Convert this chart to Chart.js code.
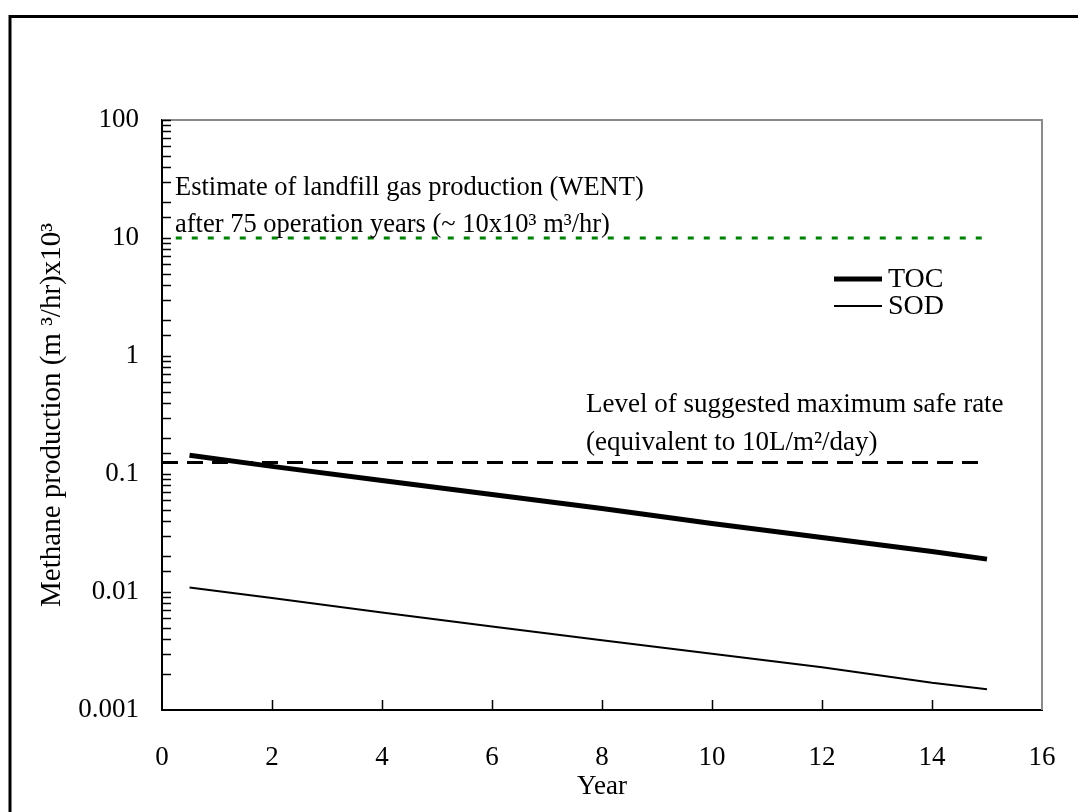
<!DOCTYPE html>
<html>
<head>
<meta charset="utf-8">
<style>
  html, body { margin: 0; padding: 0; background: #fff; }
  canvas { display: block; }
</style>
<script src="https://cdn.jsdelivr.net/npm/chart.js@4"></script>
</head>
<body>
<canvas id="chart" width="1078" height="812"></canvas>
<script>
(() => {
  'use strict';

  // values
  const tocYears = [0.5, 2, 4, 6, 8, 10, 12, 14, 15];
  const tocValues = [0.144, 0.116, 0.088, 0.067, 0.051, 0.038, 0.029, 0.022, 0.019];
  const sodYears = [0.5, 2, 4, 6, 8, 10, 12, 14, 15];
  const sodValues = [0.0109, 0.0089, 0.0067, 0.0051, 0.0039, 0.0030, 0.0023, 0.0017, 0.0015];
  const safeYears = [0, 15];
  const safeValues = [0.125, 0.125];
  const wentYears = [0.25, 15];
  const wentValues = [10, 10];
  const yTickLabels = ['0.001', '0.01', '0.1', '1', '10', '100'];

  const serif = '"Liberation Serif", "Times New Roman", serif';
  const pts = (xs, ys) => xs.map((x, i) => ({ x, y: ys[i] }));

  const decor = {
    id: 'decor',
    beforeDraw(chart) {
      const ctx = chart.ctx;
      ctx.save();
      ctx.strokeStyle = '#000';
      ctx.lineWidth = 3;
      ctx.beginPath();
      ctx.moveTo(10, 2000);
      ctx.lineTo(10, 16.5);
      ctx.lineTo(2000, 16.5);
      ctx.stroke();
      ctx.restore();
    },
    afterDraw(chart) {
      const ctx = chart.ctx;
      const a = chart.chartArea;
      const xs = chart.scales.x, ys = chart.scales.y;
      ctx.save();

      // gray top/right frame
      ctx.strokeStyle = '#8a8a8a';
      ctx.lineWidth = 2;
      ctx.beginPath();
      ctx.moveTo(a.left, a.top);
      ctx.lineTo(a.right, a.top);
      ctx.lineTo(a.right, a.bottom);
      ctx.stroke();

      // inward ticks
      ctx.strokeStyle = '#000';
      ctx.lineWidth = 1.5;
      ctx.beginPath();
      ys.ticks.forEach(t => {
        const y = Math.round(ys.getPixelForValue(t.value)) + 0.5;
        if (y < a.top - 1 || y > a.bottom - 2) return;
        ctx.moveTo(a.left, y);
        ctx.lineTo(a.left + 9, y);
      });
      xs.ticks.forEach(t => {
        const x = Math.round(xs.getPixelForValue(t.value)) + 0.5;
        if (x < a.left + 2 || x > a.right - 2) return;
        ctx.moveTo(x, a.bottom);
        ctx.lineTo(x, a.bottom - 10);
      });
      ctx.stroke();

      // annotations
      ctx.fillStyle = '#000';
      ctx.textBaseline = 'alphabetic';
      ctx.textAlign = 'left';
      ctx.font = '26.5px ' + serif;
      ctx.fillText('Estimate of landfill gas production (WENT)', 175, 195);
      ctx.fillText('after 75 operation years (~ 10x10\u00B3 m\u00B3/hr)', 175, 232);
      ctx.font = '27px ' + serif;
      ctx.fillText('Level of suggested maximum safe rate', 586, 412);
      ctx.fillText('(equivalent to 10L/m\u00B2/day)', 586, 450);

      // legend
      const legendRows = [
        { ds: chart.data.datasets[0], y: 279 },
        { ds: chart.data.datasets[1], y: 306 }
      ];
      ctx.font = '28px ' + serif;
      ctx.textBaseline = 'middle';
      legendRows.forEach(r => {
        ctx.strokeStyle = r.ds.borderColor;
        ctx.lineWidth = r.ds.borderWidth;
        ctx.beginPath();
        ctx.moveTo(834, r.y);
        ctx.lineTo(882, r.y);
        ctx.stroke();
        ctx.fillText(r.ds.label, 888, r.y + 1);
      });
      ctx.restore();
    }
  };

  new Chart(document.getElementById('chart'), {
    type: 'line',
    data: {
      datasets: [
        { label: 'TOC', data: pts(tocYears, tocValues), borderColor: '#000', borderWidth: 5 },
        { label: 'SOD', data: pts(sodYears, sodValues), borderColor: '#000', borderWidth: 2 },
        { label: 'safe', data: pts(safeYears, safeValues), borderColor: '#000', borderWidth: 3, borderDash: [16, 9] },
        { label: 'WENT', data: pts(wentYears, wentValues), borderColor: '#008000', borderWidth: 3, borderDash: [6, 10] }
      ]
    },
    options: {
      responsive: false,
      animation: false,
      layout: { padding: { top: 120, right: 36, left: 0, bottom: 0 } },
      elements: {
        point: { radius: 0 },
        line: { tension: 0, borderCapStyle: 'butt', fill: false }
      },
      plugins: { legend: { display: false }, tooltip: { enabled: false } },
      scales: {
        x: {
          type: 'linear',
          min: 0,
          max: 16,
          grid: { display: false, drawTicks: false },
          border: { display: true, color: '#000', width: 2 },
          ticks: { stepSize: 2, padding: 32, color: '#000', font: { family: serif, size: 27 } },
          title: { display: true, text: 'Year', color: '#000', font: { family: serif, size: 27 }, padding: { top: 0, bottom: 9 } },
          afterFit: s => { s.height = 102; s.paddingLeft = 0; s.paddingRight = 0; }
        },
        y: {
          type: 'logarithmic',
          min: 0.001,
          max: 100,
          grid: { display: false, drawTicks: false },
          border: { display: true, color: '#000', width: 2 },
          ticks: {
            autoSkip: false,
            padding: 23,
            color: '#000',
            font: { family: serif, size: 27 },
            callback: v => {
              const lbl = yTickLabels.find(l => Math.abs(Number(l) - v) < v * 1e-6);
              return lbl || '';
            }
          },
          title: {
            display: true,
            text: 'Methane production (m \u00B3/hr)x10\u00B3',
            color: '#000',
            font: { family: serif, size: 29 },
            padding: { top: 35, bottom: 0 }
          },
          afterFit: s => { s.width = 162; s.paddingTop = 0; s.paddingBottom = 0; }
        }
      }
    },
    plugins: [decor]
  });
})();
</script>
</body>
</html>
